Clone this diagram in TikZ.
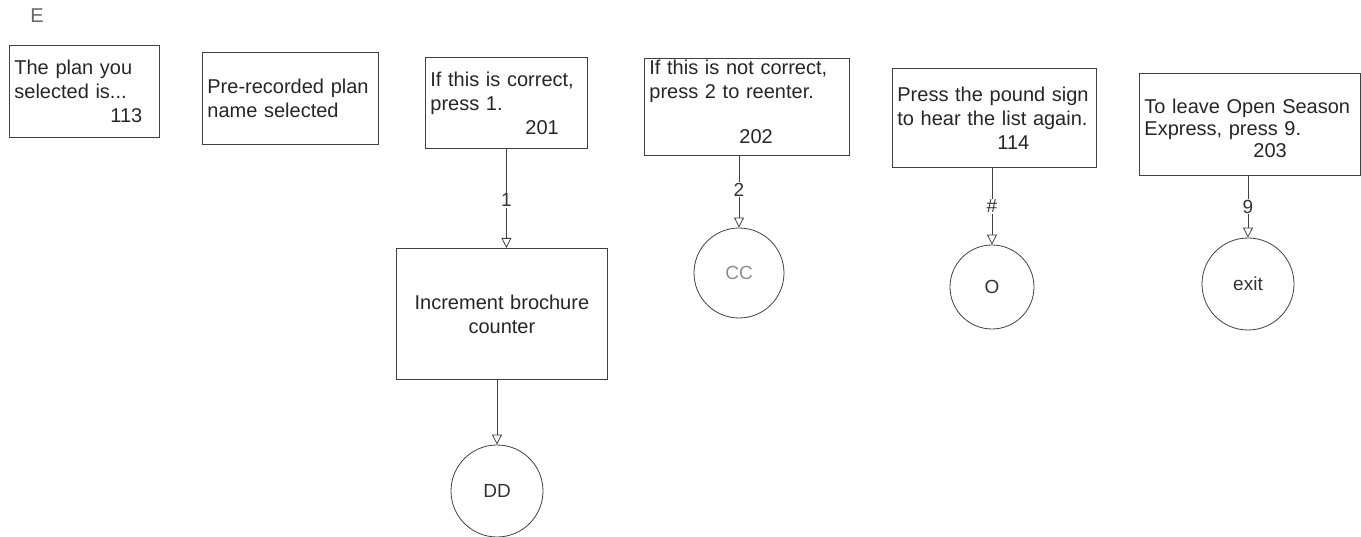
\documentclass[tikz,border=0pt]{standalone}
\usepackage{fontspec}
\setmainfont{Liberation Sans}
\usetikzlibrary{arrows.meta}
\begin{document}
\begin{tikzpicture}[x=1pt,y=-1pt,
  box/.style={draw=black!75, line width=0.8pt, rectangle, anchor=north west,
    inner xsep=5pt, inner ysep=2pt, align=left,
    font=\fontsize{20}{24}\selectfont, text=black!85},
  circ/.style={draw=black!75, line width=0.8pt, circle, inner sep=0pt,
    font=\fontsize{19}{22}\selectfont, text=black!80},
  arr/.style={draw=black!75, line width=0.8pt,
    -{Triangle[open,length=10pt,width=10pt]}},
  lbl/.style={fill=white, inner sep=1pt, font=\fontsize{19}{20}\selectfont, text=black!80}]

\useasboundingbox (0,0) rectangle (1361,537);

\node[font=\fontsize{20}{24}\selectfont, text=black!60] (e) at (37,16) {E};

\node[box, text width=140pt, minimum height=92pt] (b1) at (9,45)
  {The plan you\\selected is...\\\hspace*{96pt}113};
\node[box, text width=166pt, minimum height=92pt] (b2) at (202,52)
  {Pre-recorded plan\\name selected};
\node[box, text width=152pt, minimum height=91pt] (b3) at (425,57)
  {If this is correct,\\press 1.\\\hspace*{95pt}201};
\node[box, text width=195pt, minimum height=97pt, inner ysep=0pt] (b4) at (644,58)
  {If this is not correct,\\press 2 to reenter.\\[21pt]\hspace*{90pt}202\rule[-10pt]{0pt}{0pt}};
\node[box, text width=194pt, minimum height=99pt] (b5) at (892,68)
  {Press the pound sign\\to hear the list again.\\\hspace*{100pt}114};
\node[box, text width=211pt, minimum height=102pt, font=\fontsize{20}{22}\selectfont] (b6) at (1139,73)
  {\rule{0pt}{23pt}To leave Open Season\\Express, press 9.\\\hspace*{109pt}203};

\node[box, text width=201pt, minimum height=131pt, align=center] (inc) at (396,248)
  {Increment brochure\\counter};

\node[circ, minimum size=92pt] (dd) at (497,491) {DD};
\node[circ, minimum size=90pt, text=black!45] (cc) at (739,273) {CC};
\node[circ, minimum size=84pt] (o) at (992,287) {O};
\node[circ, minimum size=92pt] (ex) at (1248,284) {exit};

\draw[arr] (b3.south) -- node[lbl, pos=0.52] {1} (b3.south |- inc.north);
\draw[arr] (inc.south -| dd.north) -- (dd.north);
\draw[arr] (b4.south -| cc.north) -- node[lbl, pos=0.47] {2} (cc.north);
\draw[arr] (b5.south -| o.north) -- node[lbl, pos=0.5] {\#} (o.north);
\draw[arr] (b6.south -| ex.north) -- node[lbl, pos=0.5] {9} (ex.north);
\end{tikzpicture}
\end{document}
